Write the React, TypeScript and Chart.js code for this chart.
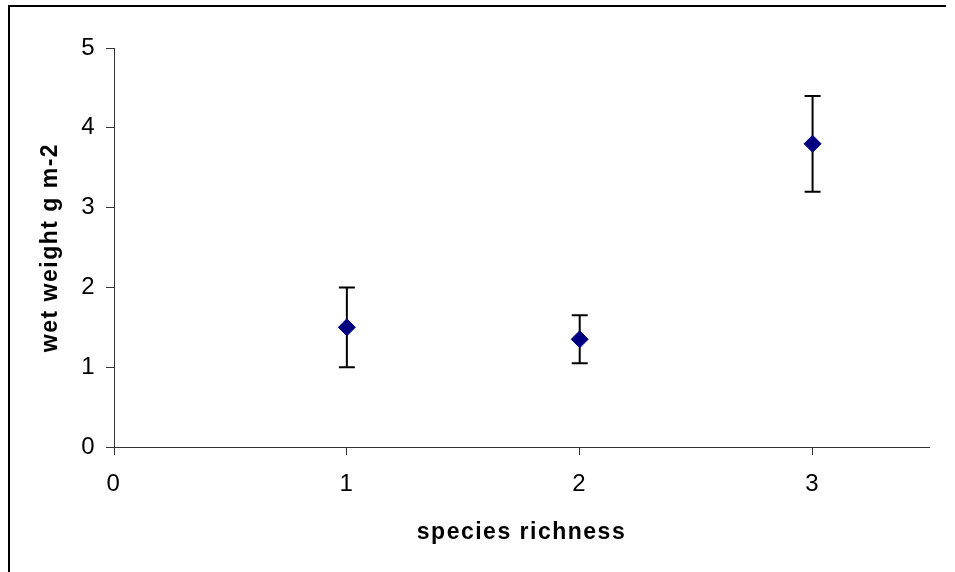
import React, { useEffect, useRef } from "react";
import { Chart, registerables } from "chart.js";

Chart.register(...registerables);

const speciesRichness = [1, 2, 3];
const wetWeightMean = [1.5, 1.35, 3.8];
const wetWeightError = [0.5, 0.3, 0.6];
const xTickValues = [0, 1, 2, 3];
const yTickValues = [0, 1, 2, 3, 4, 5];
const xTitle = "species richness";
const yTitle = "wet weight g m-2";

const FONT = "'Liberation Sans', Arial, sans-serif";

const letterSpacingPlugin = {
  id: "letterSpacing",
  beforeDraw(chart: any) {
    (chart.ctx as any).letterSpacing = "1.5px";
  },
  afterDraw(chart: any) {
    (chart.ctx as any).letterSpacing = "0px";
  },
};

const errorBarPlugin = {
  id: "errorBars",
  beforeDatasetsDraw(chart: any) {
    const ctx = chart.ctx;
    const xs = chart.scales.x;
    const ys = chart.scales.y;
    ctx.save();
    ctx.strokeStyle = "#000";
    ctx.lineWidth = 2;
    const cap = 8;
    speciesRichness.forEach((xv, i) => {
      const px = xs.getPixelForValue(xv);
      const top = ys.getPixelForValue(wetWeightMean[i] + wetWeightError[i]);
      const bot = ys.getPixelForValue(wetWeightMean[i] - wetWeightError[i]);
      ctx.beginPath();
      ctx.moveTo(px, top);
      ctx.lineTo(px, bot);
      ctx.moveTo(px - cap, top);
      ctx.lineTo(px + cap, top);
      ctx.moveTo(px - cap, bot);
      ctx.lineTo(px + cap, bot);
      ctx.stroke();
    });
    ctx.restore();
  },
};

export default function App() {
  const canvasRef = useRef<HTMLCanvasElement | null>(null);

  useEffect(() => {
    if (!canvasRef.current) return;
    const chart = new Chart(canvasRef.current, {
      type: "scatter",
      data: {
        datasets: [
          {
            data: speciesRichness.map((x, i) => ({ x, y: wetWeightMean[i] })),
            pointStyle: "rectRot",
            pointRadius: 8.5,
            pointHoverRadius: 8.5,
            backgroundColor: "#000080",
            borderColor: "#000080",
            borderWidth: 1,
          },
        ],
      },
      options: {
        animation: false,
        responsive: false,
        devicePixelRatio: 1,
        events: [],
        layout: { padding: { top: 48, right: 26, left: 0, bottom: 0 } },
        plugins: {
          legend: { display: false },
          tooltip: { enabled: false },
          title: { display: false },
        },
        scales: {
          x: {
            type: "linear",
            min: 0,
            max: 3.5,
            afterBuildTicks: (scale: any) => {
              scale.ticks = xTickValues.map((v) => ({ value: v }));
            },
            afterFit: (scale: any) => {
              scale.height = 125;
            },
            grid: {
              display: true,
              drawOnChartArea: false,
              drawTicks: true,
              tickLength: 8,
              color: "#333",
              lineWidth: 1,
            },
            border: { display: true, color: "#333", width: 1 },
            ticks: {
              color: "#000",
              font: { family: FONT, size: 24 },
              padding: 15,
            },
            title: {
              display: true,
              text: xTitle,
              color: "#000",
              font: { family: FONT, size: 23, weight: "bold" },
              padding: { top: 0, bottom: 26 },
            },
          },
          y: {
            type: "linear",
            min: 0,
            max: 5,
            afterBuildTicks: (scale: any) => {
              scale.ticks = yTickValues.map((v) => ({ value: v }));
            },
            afterFit: (scale: any) => {
              scale.width = 114;
            },
            grid: {
              display: true,
              drawOnChartArea: false,
              drawTicks: true,
              tickLength: 8,
              color: "#333",
              lineWidth: 1,
            },
            border: { display: true, color: "#333", width: 1 },
            ticks: {
              color: "#000",
              font: { family: FONT, size: 24 },
              padding: 10,
            },
            title: {
              display: true,
              text: yTitle,
              color: "#000",
              font: { family: FONT, size: 23, weight: "bold" },
              padding: { top: 37, bottom: 0 },
            },
          },
        },
      } as any,
      plugins: [letterSpacingPlugin, errorBarPlugin],
    });
    return () => chart.destroy();
  }, []);

  return (
    <div
      style={{
        position: "fixed",
        left: 0,
        top: 0,
        width: 955,
        height: 572,
        background: "#fff",
        overflow: "hidden",
      }}
    >
      <canvas
        ref={canvasRef}
        width={955}
        height={572}
        style={{ position: "absolute", left: 0, top: 0, width: 955, height: 572 }}
      />
      <div
        style={{
          position: "absolute",
          left: 8,
          top: 5,
          width: 936,
          height: 600,
          borderLeft: "2px solid #000",
          borderTop: "2px solid #000",
        }}
      />
    </div>
  );
}
